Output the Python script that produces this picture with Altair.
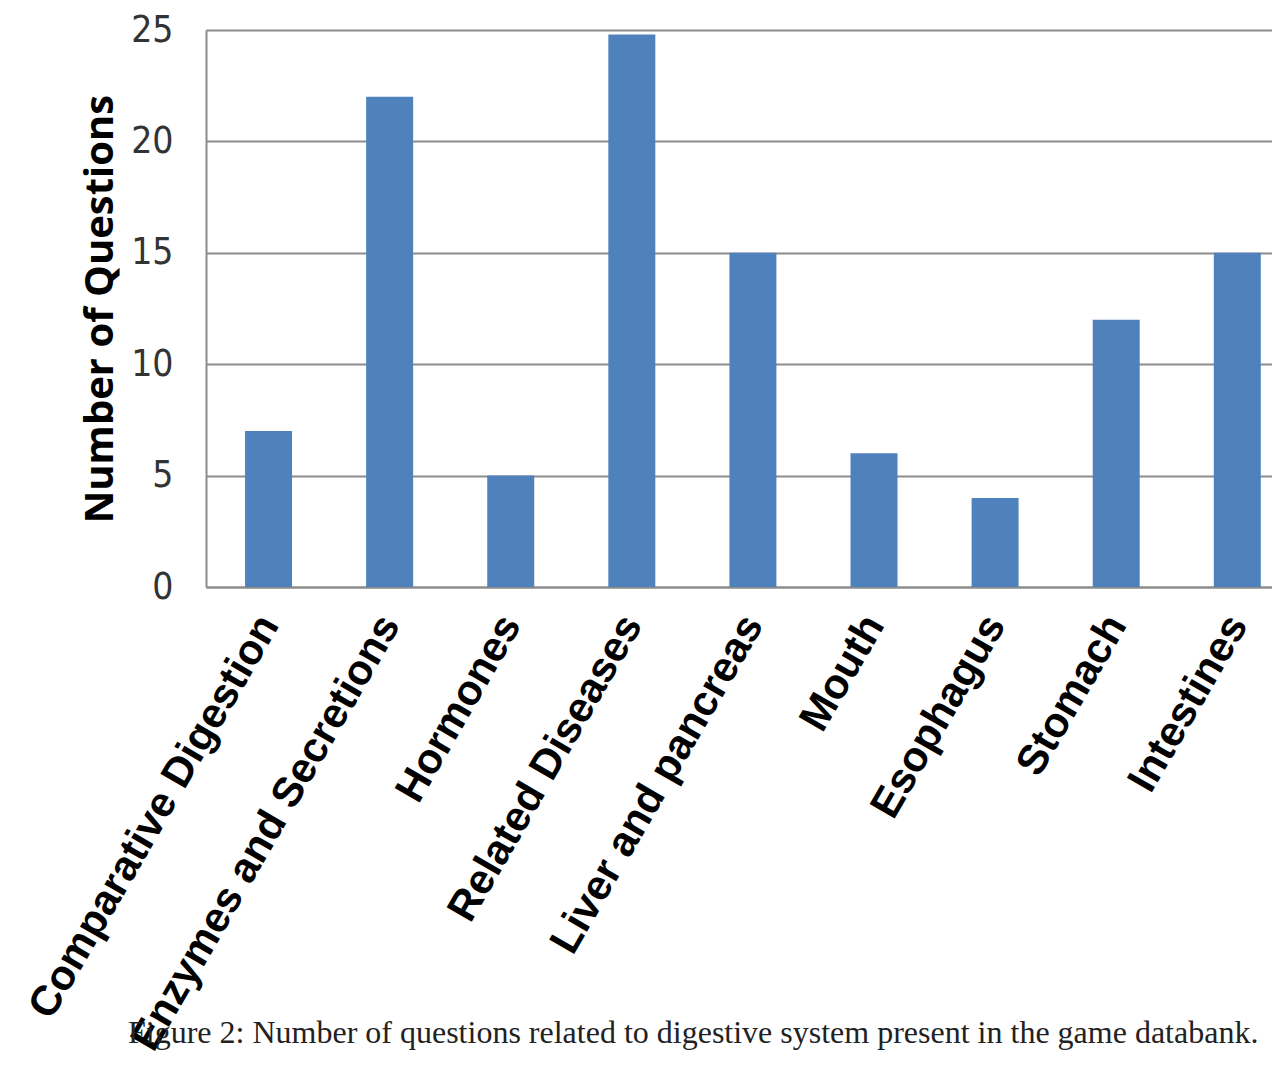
import altair as alt
import pandas as pd

categories = ["Comparative Digestion", "Enzymes and Secretions", "Hormones",
              "Related Diseases", "Liver and pancreas", "Mouth", "Esophagus",
              "Stomach", "Intestines"]
values = [7, 22, 5, 24.8, 15, 6, 4, 12, 15]
y_ticks = [0, 5, 10, 15, 20, 25]
y_title = "Number of Questions"
caption = "Figure 2: Number of questions related to digestive system present in the game databank."

df = pd.DataFrame({"topic": categories, "count": values})
cap_df = pd.DataFrame({"caption": [caption]})

W, H = 1066, 557

bars = alt.Chart(df).mark_bar(color="#4F81BD").encode(
    x=alt.X("topic:N", sort=categories,
            scale=alt.Scale(paddingInner=0.612, paddingOuter=0.2075, align=0.777),
            axis=alt.Axis(title=None, labelAngle=-60, labelFont="Liberation Sans",
                          labelFontWeight="bold", labelFontSize=42, labelColor="#000000",
                          labelPadding=31, ticks=False, tickSize=0,
                          domainColor="#8c8c8c", domainWidth=2, labelLimit=0)),
    y=alt.Y("count:Q", scale=alt.Scale(domain=[0, 25], nice=False),
            axis=alt.Axis(values=y_ticks, title=y_title, ticks=False, tickSize=0,
                          labelFont="Liberation Sans Narrow, DejaVu Sans Condensed, Roboto",
                          labelFontSize=37, labelColor="#333333", labelPadding=33,
                          titleFont="Open Sans", titleFontWeight="bold", titleFontSize=40,
                          titleColor="#000000", titleX=-106, titleY=H / 2,
                          titleAngle=-90, titleAlign="center", titleBaseline="middle",
                          grid=True, gridColor="#8c8c8c", gridWidth=2,
                          domainColor="#8c8c8c", domainWidth=2)),
)

cap = alt.Chart(cap_df).mark_text(
    font="Liberation Serif", fontSize=32, color="#222222", align="left", baseline="alphabetic"
).encode(x=alt.value(-78), y=alt.value(1013), text="caption:N")

chart = alt.layer(bars, cap).properties(
    width=W, height=H,
    autosize=alt.AutoSizeParams(type="none"),
    padding={"left": 206, "top": 30, "right": 0, "bottom": 479},
).configure_view(stroke=None).configure(background="white")

chart.save("out.html", embed_options={"renderer": "svg", "actions": False})
